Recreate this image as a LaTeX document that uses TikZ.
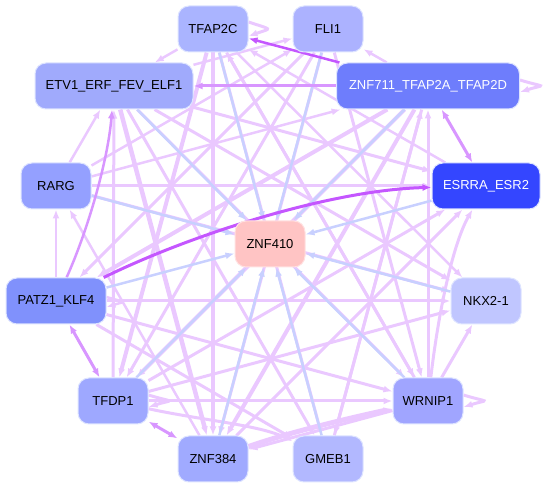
\documentclass[tikz,border=0pt]{standalone}
\usepackage{fontspec}
\setmainfont{Liberation Sans}
\usetikzlibrary{arrows.meta}
\pgfdeclarelayer{bg}
\pgfsetlayers{bg,main}
\definecolor{halo}{RGB}{222,228,255}
\definecolor{lv}{RGB}{234,200,255}
\definecolor{mv}{RGB}{216,150,255}
\definecolor{dv}{RGB}{196,86,255}
\definecolor{bl}{RGB}{200,208,255}
\definecolor{cT}{RGB}{170,180,255}
\definecolor{cF}{RGB}{172,178,255}
\definecolor{cE}{RGB}{160,170,252}
\definecolor{cZ}{RGB}{110,125,252}
\definecolor{cR}{RGB}{148,160,255}
\definecolor{cS}{RGB}{52,70,255}
\definecolor{cC}{RGB}{255,196,196}
\definecolor{cP}{RGB}{128,145,252}
\definecolor{cN}{RGB}{192,198,255}
\definecolor{cD}{RGB}{158,168,255}
\definecolor{cW}{RGB}{160,165,255}
\definecolor{cK}{RGB}{160,170,255}
\definecolor{cG}{RGB}{178,184,255}
\begin{document}
\begin{tikzpicture}[x=1pt,y=-1pt,
  tfbox/.style={rounded corners=11pt, minimum width=70pt, minimum height=46pt,
    draw=halo, line width=1pt, inner sep=4pt, font=\fontsize{13}{15}\selectfont},
  tip/.style={-{Latex[length=9pt,width=7pt]}},
  dtip/.style={{Latex[length=9pt,width=7pt]}-{Latex[length=9pt,width=7pt]}},
  le/.style={draw=lv, line width=3pt, tip},
  be/.style={draw=bl, line width=2.5pt, tip},
  me/.style={draw=mv, line width=3pt, tip},
  de/.style={draw=dv, line width=3pt, tip}]
\useasboundingbox (0,0) rectangle (550,489);
\node[tfbox, fill=cT] (t) at (213,29) {TFAP2C};
\node[tfbox, fill=cF] (f) at (328,29) {FLI1};
\node[tfbox, fill=cE, minimum width=158pt] (e) at (114,86) {ETV1\_ERF\_FEV\_ELF1};
\node[tfbox, fill=cZ, minimum width=183pt, text=white] (z) at (428,86) {ZNF711\_TFAP2A\_TFAP2D};
\node[tfbox, fill=cR] (r) at (56,186) {RARG};
\node[tfbox, fill=cS, minimum width=108pt, text=white] (s) at (486,186) {ESRRA\_ESR2};
\node[tfbox, fill=cC, draw={rgb,255:red,255;green,225;blue,225}] (c) at (270,244) {ZNF410};
\node[tfbox, fill=cP, minimum width=100pt] (p) at (56,301) {PATZ1\_KLF4};
\node[tfbox, fill=cN] (n) at (486,301) {NKX2-1};
\node[tfbox, fill=cD] (d) at (113,401) {TFDP1};
\node[tfbox, fill=cW] (w) at (428,401) {WRNIP1};
\node[tfbox, fill=cK] (k) at (213,459) {ZNF384};
\node[tfbox, fill=cG] (g) at (328,459) {GMEB1};
\begin{pgfonlayer}{bg}
% light violet edges
\draw[le, line width=2.5pt] (t) -- (e);
\draw[le, line width=2.5pt] (r) -- (e);
\draw[le] (d) -- (e);
\draw[le, line width=2.5pt] (p) -- (r);
\draw[le, line width=2.5pt] (k) -- (r);
\draw[le, line width=2.5pt] (e) -- (f);
\draw[le, line width=2.5pt] (r) -- (f);
\draw[le, line width=2.5pt] (r) -- (z);
\draw[le] (r) -- (s);
\draw[le, line width=4.5pt] (e) -- (k);
\draw[le] (e) -- (g);
\draw[le] (e) -- (w);
\draw[le] (e) -- (n);
\draw[le] (e) -- (s);
\draw[le, line width=2.5pt] (s) -- (t);
\draw[le, line width=4pt] (t) -- (d);
\draw[le, line width=4pt] (t) -- (k);
\draw[le] (t) -- (g);
\draw[le] (t) -- (w);
\draw[le, line width=2.5pt] (t) -- (n);
\draw[le] (f) -- (p);
\draw[le] (f) -- (d);
\draw[le] (f) -- (k);
\draw[le] (f) -- (w);
\draw[le, line width=2.5pt] (z) -- (f);
\draw[le, line width=4pt] (z) -- (p);
\draw[le, line width=4pt] (z) -- (d);
\draw[le, line width=4pt] (z) -- (k);
\draw[le] (z) -- (g);
\draw[le] (w) -- (z);
\draw[le] (w) -- (t);
\draw[le] (w) -- (n);
\draw[le] (w) .. controls (440,300) and (455,240) .. (s);
\draw[le] (p) -- (n);
\draw[le] (p) -- (w);
\draw[le] (p) -- (g);
\draw[le] (d) -- (n);
\draw[le] (d) -- (w);
\draw[le] (d) -- (s);
\draw[le] (d) .. controls (200,420) and (260,425) .. (g);
\draw[le] (k) -- (s);
\draw[le] (g) -- (z);
\draw[le] (r) -- (n);
\draw[le, line width=5pt] (k) .. controls (290,432) and (350,418) .. (w);
\draw[le] (w) -- (k);
% self loops
\draw[le] ([yshift=7pt]t.east) .. controls +(24,8) and +(24,-8) .. ([yshift=-7pt]t.east);
\draw[le] ([yshift=6pt]z.east) .. controls +(26,8) and +(26,-8) .. ([yshift=-6pt]z.east);
\draw[le, line width=2.5pt] ([yshift=4pt]p.east) .. controls +(20,6) and +(20,-6) .. ([yshift=-6pt]p.east);
\draw[le] ([yshift=6pt]d.east) .. controls +(26,8) and +(26,-8) .. ([yshift=-6pt]d.east);
\draw[le] ([yshift=6pt]w.east) .. controls +(26,8) and +(26,-8) .. ([yshift=-6pt]w.east);
% blue edges to ZNF410
\foreach \src in {t,f,e,z,r,s,p,n,d,w,k,g} {\draw[be] (\src) -- (c);}
% medium / dark edges
\draw[me] (z) -- (e);
\draw[me, dtip] (z) -- (s);
\draw[me, dtip] (p) -- (d);
\draw[me, dtip] (d) -- (k);
\draw[me, line width=2.5pt] (p) .. controls (88,230) and (108,160) .. (e);
\draw[de, line width=2.5pt] (z) -- (t);
\draw[de] (p) .. controls (190,235) and (330,190) .. (s);
\end{pgfonlayer}
\end{tikzpicture}
\end{document}
